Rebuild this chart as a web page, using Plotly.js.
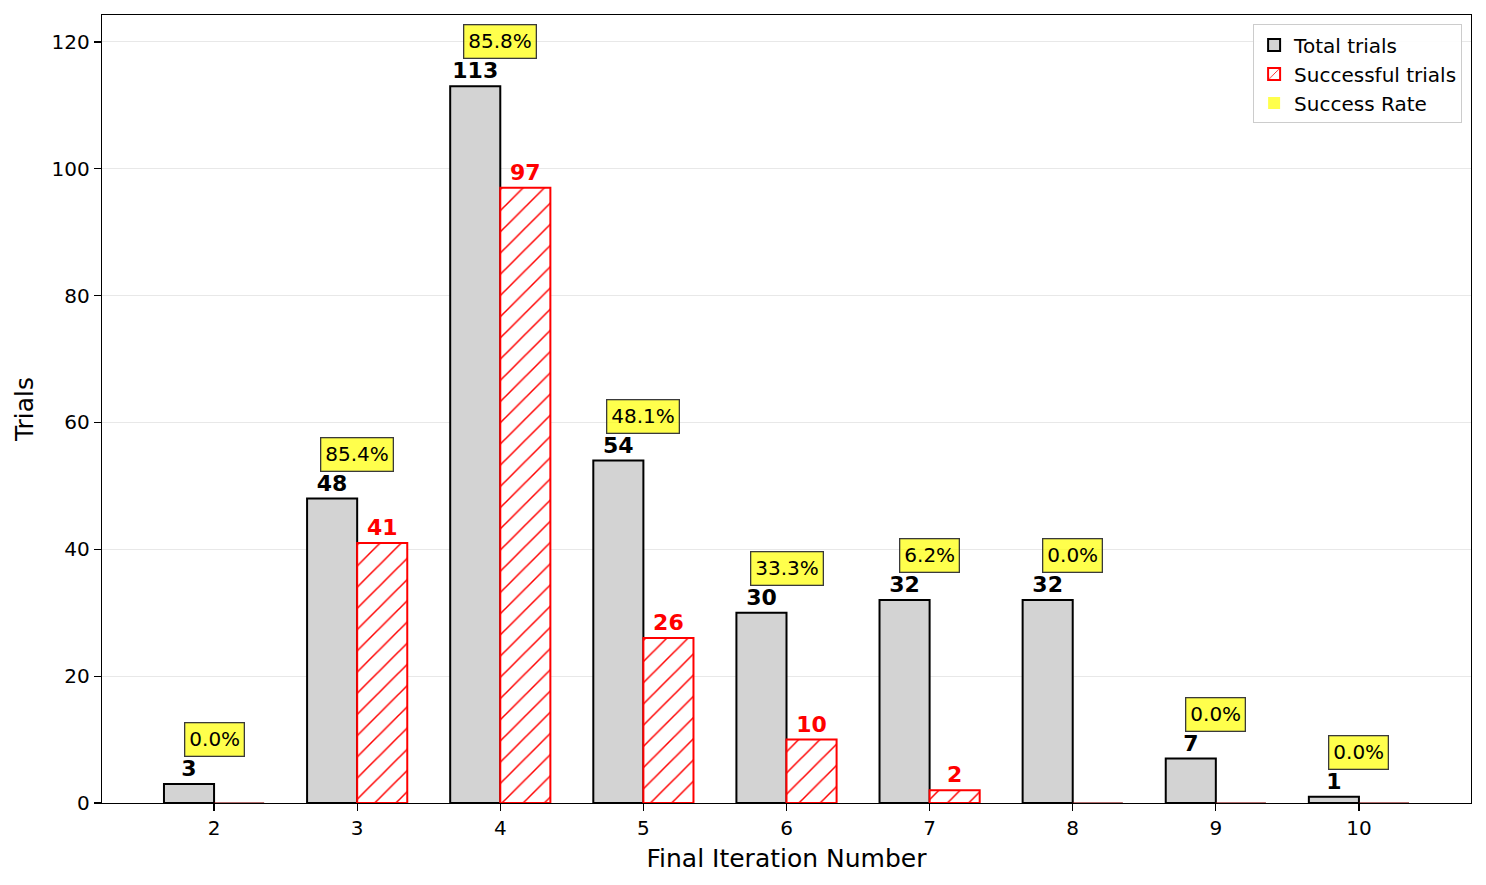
<!DOCTYPE html>
<html>
<head>
<meta charset="utf-8">
<script src="https://cdn.plot.ly/plotly-3.0.1.min.js"></script>
<style>
  html, body { margin: 0; padding: 0; background: #fff; }
  #chart { width: 1486px; height: 885px; }
</style>
</head>
<body>
<div id="chart"></div>
<script>
// Trials grouped by the iteration at which they finished
const iterations = [2, 3, 4, 5, 6, 7, 8, 9, 10];
const totalTrials = [3, 48, 113, 54, 30, 32, 32, 7, 1];
const successfulTrials = [0, 41, 97, 26, 10, 2, 0, 0, 0];
const successRates = [0.0, 85.4, 85.8, 48.1, 33.3, 6.2, 0.0, 0.0, 0.0];

const FONT = 'DejaVu Sans, Verdana, sans-serif';
const BAR_W = 0.35;
const HATCH = { shape: '/', fgcolor: '#ff0000', bgcolor: '#ffffff', size: 15, solidity: 0.1, fillmode: 'replace' };

const totalTrace = {
  type: 'bar',
  name: 'Total trials',
  legendrank: 1,
  x: iterations,
  y: totalTrials,
  width: BAR_W,
  offset: -BAR_W,
  marker: { color: '#d3d3d3', line: { color: '#000000', width: 2 } },
  text: totalTrials.map(v => v > 0 ? String(v) : ''),
  textposition: 'outside',
  textfont: { family: FONT, size: 22, color: '#000000', weight: 'bold' },
  cliponaxis: false,
  hoverinfo: 'x+y'
};

const successTrace = {
  type: 'bar',
  name: 'Successful trials',
  showlegend: false,
  x: iterations,
  y: successfulTrials,
  width: BAR_W,
  offset: 0,
  marker: {
    color: '#ffffff',
    // empty bars leave only a faint edge on the baseline
    line: {
      color: successfulTrials.map(v => v > 0 ? '#ff0000' : 'rgba(120,0,0,0.7)'),
      width: successfulTrials.map(v => v > 0 ? 2 : 1)
    },
    pattern: HATCH
  },
  text: successfulTrials.map(v => v > 0 ? String(v) : ''),
  textposition: 'outside',
  textfont: { family: FONT, size: 22, color: '#ff0000', weight: 'bold' },
  cliponaxis: false,
  hoverinfo: 'x+y'
};

// legend-only entries
const successLegend = {
  type: 'bar',
  name: 'Successful trials',
  legendrank: 2,
  x: [null],
  y: [null],
  marker: { color: '#ffffff', line: { color: '#ff0000', width: 2 }, pattern: HATCH },
  hoverinfo: 'skip'
};

const rateLegend = {
  type: 'bar',
  name: 'Success Rate',
  legendrank: 3,
  x: [null],
  y: [null],
  marker: { color: 'rgba(255,255,0,0.7)', line: { width: 0 } },
  hoverinfo: 'skip'
};

const rateAnnotations = iterations.map((it, i) => ({
  x: it,
  y: totalTrials[i] + 7,
  xref: 'x',
  yref: 'y',
  text: successRates[i].toFixed(1) + '%',
  showarrow: false,
  font: { family: FONT, size: 20, color: '#000000' },
  bgcolor: 'rgba(255,255,0,0.7)',
  bordercolor: '#3a3a3a',
  borderwidth: 1.3,
  borderpad: 4,
  xanchor: 'center',
  yanchor: 'middle'
}));

const layout = {
  width: 1486,
  height: 885,
  margin: { l: 102, r: 15, t: 15, b: 82 },
  paper_bgcolor: '#ffffff',
  plot_bgcolor: '#ffffff',
  barmode: 'overlay',
  font: { family: FONT, size: 20, color: '#000000' },
  showlegend: true,
  legend: {
    x: 0.9935, y: 0.988, xanchor: 'right', yanchor: 'top',
    bgcolor: 'rgba(255,255,255,0.9)',
    bordercolor: '#cccccc', borderwidth: 1,
    font: { family: FONT, size: 20, color: '#000000' },
    tracegroupgap: 2,
    traceorder: 'normal'
  },
  xaxis: {
    range: [1.217, 10.783],
    tickmode: 'array',
    tickvals: iterations,
    ticktext: iterations.map(String),
    ticks: 'outside', ticklen: 7, tickwidth: 1.3, tickcolor: '#000000',
    showgrid: false,
    zeroline: false,
    showline: true, linecolor: '#000000', linewidth: 1.3, mirror: true,
    tickfont: { family: FONT, size: 20 },
    title: { text: 'Final Iteration Number', font: { family: FONT, size: 25 }, standoff: 10 }
  },
  yaxis: {
    range: [0, 124.25],
    tickmode: 'array',
    tickvals: [0, 20, 40, 60, 80, 100, 120],
    ticks: 'outside', ticklen: 7, tickwidth: 1.3, tickcolor: '#000000',
    showgrid: true, gridcolor: '#e8e8e8', gridwidth: 1,
    zeroline: false,
    showline: true, linecolor: '#000000', linewidth: 1.3, mirror: true,
    tickfont: { family: FONT, size: 20 },
    title: { text: 'Trials', font: { family: FONT, size: 25 }, standoff: 10 }
  },
  annotations: rateAnnotations
};

Plotly.newPlot('chart', [totalTrace, successTrace, successLegend, rateLegend], layout, { displayModeBar: false, staticPlot: true });
</script>
</body>
</html>
